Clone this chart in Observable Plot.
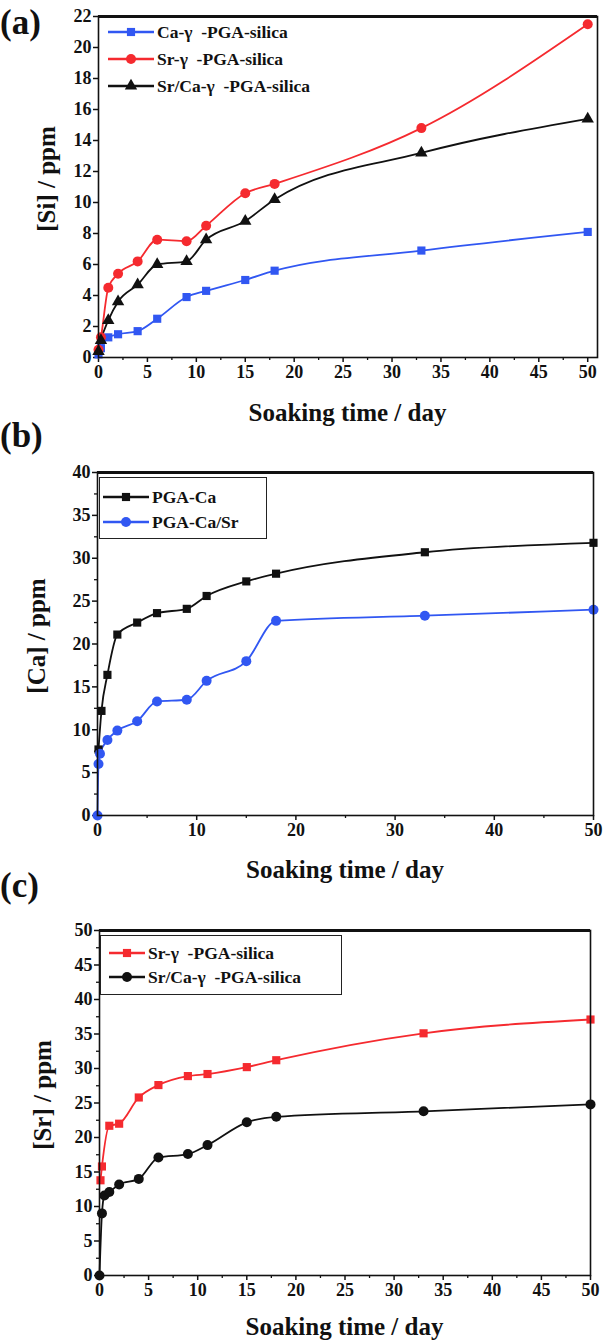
<!DOCTYPE html>
<html><head><meta charset="utf-8">
<script src="https://cdn.jsdelivr.net/npm/d3@7"></script>
<script src="https://cdn.jsdelivr.net/npm/@observablehq/plot@0.6"></script>
<style>
body{margin:0;background:#fff;}
#root{position:relative;width:606px;height:1343px;overflow:hidden;font-family:"Liberation Serif","DejaVu Serif",serif;color:#111;}
.panel{position:absolute;left:0;}
.panel svg text{font-family:"Liberation Serif","DejaVu Serif",serif !important;font-weight:bold;}
.plabel{position:absolute;left:0;font-weight:bold;font-size:35px;line-height:1;}
.xtitle{position:absolute;font-weight:bold;font-size:25px;transform:translate(-50%,-50%);white-space:nowrap;}
.ytitle{position:absolute;font-weight:bold;font-size:25px;transform:translate(-50%,-50%) rotate(-90deg);white-space:nowrap;}
.legend{position:absolute;font-weight:bold;font-size:17.5px;}
.legend.box{border:1.5px solid #222;background:#fff;}
.lrow{position:absolute;display:flex;align-items:center;white-space:pre;}
.lrow svg{display:block;margin-right:3px;}
</style>
</head><body><div id="root"></div>
<script>
// ---------- Panel (a): [Si] ----------
const aSeries = ["Ca-γ  -PGA-silica", "Sr-γ  -PGA-silica", "Sr/Ca-γ  -PGA-silica"];
const aDaysCa = [0, 0.25, 1, 2, 4, 6, 9, 11, 15, 18, 33, 50];
const aSiCa   = [0.2, 0.6, 1.3, 1.5, 1.7, 2.5, 3.9, 4.3, 5.0, 5.6, 6.9, 8.1];
const aDaysSr = [0, 0.25, 1, 2, 4, 6, 9, 11, 15, 18, 33, 50];
const aSiSr   = [0.5, 1.3, 4.5, 5.4, 6.2, 7.6, 7.5, 8.5, 10.6, 11.2, 14.8, 21.5];
const aDaysSrCa = [0, 0.25, 1, 2, 4, 6, 9, 11, 15, 18, 33, 50];
const aSiSrCa   = [0.4, 1.1, 2.4, 3.6, 4.7, 6.0, 6.2, 7.6, 8.8, 10.2, 13.2, 15.4];
const aXTicks = [0, 5, 10, 15, 20, 25, 30, 35, 40, 45, 50];
const aYTicks = [0, 2, 4, 6, 8, 10, 12, 14, 16, 18, 20, 22];

// ---------- Panel (b): [Ca] ----------
const bSeries = ["PGA-Ca", "PGA-Ca/Sr"];
const bDaysCa = [0.1, 0.4, 1, 2, 4, 6, 9, 11, 15, 18, 33, 50];
const bCaCa   = [7.7, 12.2, 16.4, 21.1, 22.5, 23.6, 24.1, 25.6, 27.3, 28.2, 30.7, 31.8];
const bDaysCaSr = [0, 0.1, 0.25, 1, 2, 4, 6, 9, 11, 15, 18, 33, 50];
const bCaCaSr   = [0, 6.0, 7.2, 8.8, 9.9, 11.0, 13.3, 13.5, 15.7, 18.0, 22.7, 23.3, 24.0];
const bXTicks = [0, 10, 20, 30, 40, 50];
const bYTicks = [0, 5, 10, 15, 20, 25, 30, 35, 40];

// ---------- Panel (c): [Sr] ----------
const cSeries = ["Sr-γ  -PGA-silica", "Sr/Ca-γ  -PGA-silica"];
const cDaysSr = [0.1, 0.25, 1, 2, 4, 6, 9, 11, 15, 18, 33, 50];
const cSrSr   = [13.8, 15.8, 21.7, 22.0, 25.8, 27.6, 28.9, 29.2, 30.2, 31.2, 35.1, 37.1];
const cDaysSrCa = [0, 0.25, 0.5, 1, 2, 4, 6, 9, 11, 15, 18, 33, 50];
const cSrSrCa   = [0, 9.0, 11.6, 12.1, 13.2, 14.0, 17.1, 17.6, 18.9, 22.2, 23.0, 23.8, 24.8];
const cXTicks = [0, 5, 10, 15, 20, 25, 30, 35, 40, 45, 50];
const cYTicks = [0, 5, 10, 15, 20, 25, 30, 35, 40, 45, 50];

const BLUE = "#3157f2", RED = "#f52a2f", BLACK = "#111111";
const SERIF = "Liberation Serif";

function rows(xs, ys, name) { return xs.map((x, i) => ({day: x, v: ys[i], series: name})); }
function minors(ticks) {
  const out = [];
  for (let i = 0; i < ticks.length - 1; i++) out.push((ticks[i] + ticks[i + 1]) / 2);
  return out;
}

const root = document.getElementById("root");

function addDiv(cls, text, style) {
  const d = document.createElement("div");
  d.className = cls; d.textContent = text;
  Object.assign(d.style, style);
  root.appendChild(d);
  return d;
}

function symbolPath(sym, r) {
  const map = {square: d3.symbolSquare, circle: d3.symbolCircle, triangle: d3.symbolTriangle};
  return d3.symbol(map[sym], Math.PI * r * r)();
}

function panel(cfg) {
  const yMax = cfg.yTicks[cfg.yTicks.length - 1];
  const marks = [
    Plot.axisX(cfg.xTicks, {tickSize: 5, tickPadding: 3, fontSize: 18, fontWeight: "bold", fontFamily: SERIF, strokeWidth: 1.5, label: null}),
    Plot.axisX(cfg.xMinor, {tickSize: 3, strokeWidth: 1.3, text: null, label: null}),
    Plot.axisY(cfg.yTicks, {tickSize: 5, tickPadding: 2, fontSize: 18, fontWeight: "bold", fontFamily: SERIF, strokeWidth: 1.5, label: null}),
    Plot.axisY(cfg.yMinor, {tickSize: 3, strokeWidth: 1.3, text: null, label: null}),
  ];
  for (const s of cfg.series) {
    marks.push(Plot.line(s.data, {x: "day", y: "v", stroke: s.color, strokeWidth: 1.8, curve: "monotone-x"}));
  }
  for (const s of cfg.series) {
    marks.push(Plot.dot(s.data, {x: "day", y: "v", symbol: s.symbol, fill: s.color, r: s.r}));
  }
  marks.push(Plot.frame({stroke: "#111", strokeWidth: 1.6}));
  marks.push(Plot.ruleY([yMax], {stroke: "#111", strokeWidth: 3}));
  const svg = Plot.plot({
    width: 606, height: cfg.height,
    marginTop: cfg.marginTop, marginBottom: cfg.marginBottom,
    marginLeft: cfg.marginLeft, marginRight: cfg.marginRight,
    x: {domain: cfg.xDomain},
    y: {domain: [0, yMax]},
    style: {fontFamily: SERIF, fontSize: "18px", fontWeight: "bold", color: "#111", background: "#fff", overflow: "visible"},
    marks
  });
  const wrap = document.createElement("div");
  wrap.className = "panel"; wrap.style.top = cfg.top + "px";
  wrap.appendChild(svg);
  root.appendChild(wrap);

  const plotTop = cfg.top + cfg.marginTop, plotBottom = cfg.top + cfg.height - cfg.marginBottom;
  const plotCenterX = (cfg.marginLeft + 606 - cfg.marginRight) / 2;
  addDiv("plabel", cfg.tag, {top: cfg.tagTop + "px"});
  addDiv("xtitle", "Soaking time / day", {left: plotCenterX + "px", top: (plotBottom + cfg.xTitleOffset) + "px"});
  addDiv("ytitle", cfg.yLabel, {left: cfg.yTitleX + "px", top: ((plotTop + plotBottom) / 2 - 8) + "px"});

  // legend
  const lg = document.createElement("div");
  lg.className = "legend" + (cfg.legend.box ? " box" : "");
  Object.assign(lg.style, {left: cfg.legend.left + "px", top: cfg.legend.top + "px",
    width: (cfg.legend.width || 0) + "px", height: (cfg.legend.height || 0) + "px"});
  cfg.series.forEach((s, i) => {
    const row = document.createElement("div");
    row.className = "lrow";
    row.style.left = cfg.legend.padX + "px";
    row.style.top = (cfg.legend.row0 + i * cfg.legend.rowGap - 11) + "px";
    row.style.height = "22px";
    const w = cfg.legend.lineW;
    const ns = "http://www.w3.org/2000/svg";
    const sv = document.createElementNS(ns, "svg");
    sv.setAttribute("width", w); sv.setAttribute("height", 22);
    const ln = document.createElementNS(ns, "line");
    ln.setAttribute("x1", 0); ln.setAttribute("x2", w); ln.setAttribute("y1", 11); ln.setAttribute("y2", 11);
    ln.setAttribute("stroke", s.color); ln.setAttribute("stroke-width", 2.5);
    sv.appendChild(ln);
    const p = document.createElementNS(ns, "path");
    p.setAttribute("d", symbolPath(s.symbol, s.r));
    p.setAttribute("transform", `translate(${w / 2},11)`);
    p.setAttribute("fill", s.color);
    sv.appendChild(p);
    row.appendChild(sv);
    const t = document.createElement("span");
    t.textContent = s.name;
    row.appendChild(t);
    lg.appendChild(row);
  });
  root.appendChild(lg);
}

panel({
  tag: "(a)", tagTop: 5, top: 0, height: 430, marginTop: 16, marginBottom: 73, marginLeft: 98, marginRight: 9,
  xDomain: [0, 51], xTicks: aXTicks, xMinor: minors(aXTicks), yTicks: aYTicks, yMinor: [],
  yLabel: "[Si] / ppm", yTitleX: 47, xTitleOffset: 56,
  series: [
    {name: aSeries[0], color: BLUE, symbol: "square", r: 4.6, data: rows(aDaysCa, aSiCa, aSeries[0])},
    {name: aSeries[1], color: RED, symbol: "circle", r: 5, data: rows(aDaysSr, aSiSr, aSeries[1])},
    {name: aSeries[2], color: BLACK, symbol: "triangle", r: 4.6, data: rows(aDaysSrCa, aSiSrCa, aSeries[2])}
  ],
  legend: {box: false, left: 108, top: 18, width: 250, height: 80, padX: 0, row0: 14, rowGap: 27, lineW: 46}
});

panel({
  tag: "(b)", tagTop: 418, top: 430, height: 455, marginTop: 42, marginBottom: 70, marginLeft: 97, marginRight: 13,
  xDomain: [0, 50], xTicks: bXTicks, xMinor: minors(bXTicks), yTicks: bYTicks, yMinor: minors(bYTicks),
  yLabel: "[Ca] / ppm", yTitleX: 37, xTitleOffset: 55,
  series: [
    {name: bSeries[0], color: BLACK, symbol: "square", r: 4.6, data: rows(bDaysCa, bCaCa, bSeries[0])},
    {name: bSeries[1], color: BLUE, symbol: "circle", r: 5, data: rows(bDaysCaSr, bCaCaSr, bSeries[1])}
  ],
  legend: {box: true, left: 99, top: 477, width: 166, height: 60, padX: 3, row0: 19, rowGap: 25, lineW: 46}
});

panel({
  tag: "(c)", tagTop: 868, top: 885, height: 458, marginTop: 45, marginBottom: 68, marginLeft: 99, marginRight: 16,
  xDomain: [0, 50], xTicks: cXTicks, xMinor: minors(cXTicks), yTicks: cYTicks, yMinor: minors(cYTicks),
  yLabel: "[Sr] / ppm", yTitleX: 43, xTitleOffset: 52,
  series: [
    {name: cSeries[0], color: RED, symbol: "square", r: 4.6, data: rows(cDaysSr, cSrSr, cSeries[0])},
    {name: cSeries[1], color: BLACK, symbol: "circle", r: 5, data: rows(cDaysSrCa, cSrSrCa, cSeries[1])}
  ],
  legend: {box: true, left: 100, top: 935, width: 240, height: 58, padX: 8, row0: 17, rowGap: 24, lineW: 36}
});
</script>
</body></html>
